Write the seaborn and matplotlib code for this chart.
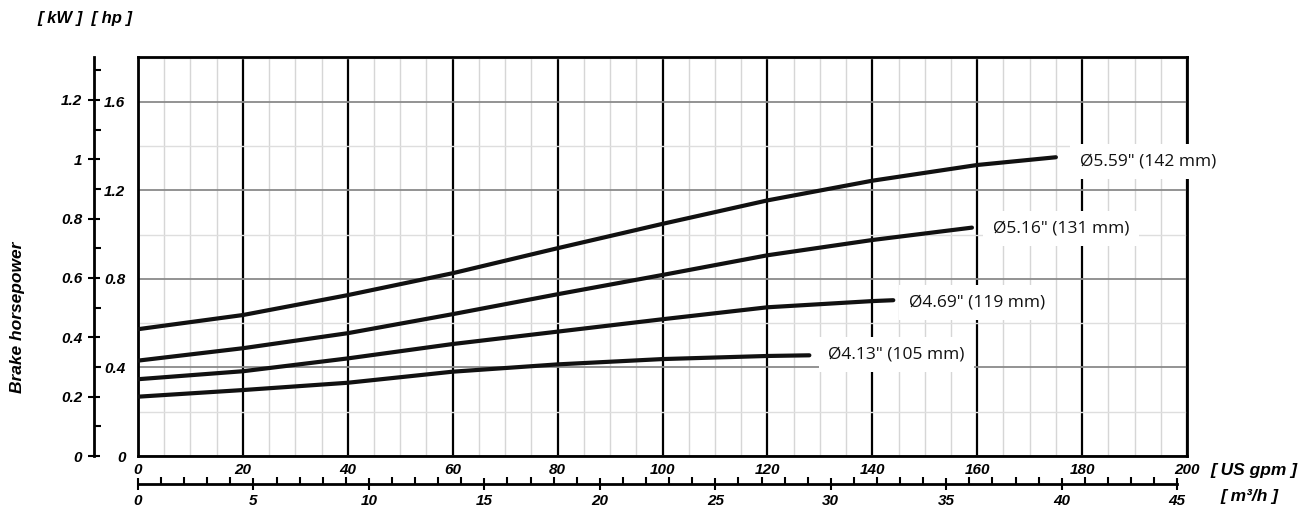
import numpy as np
import pandas as pd
import matplotlib
matplotlib.use("Agg")
import matplotlib.pyplot as plt
import seaborn as sns
from matplotlib.ticker import MultipleLocator, FuncFormatter

# ---- data ----
gpm_559 = [0, 20, 40, 60, 80, 100, 120, 140, 160, 175]
hp_559 = [0.573, 0.637, 0.727, 0.826, 0.939, 1.049, 1.155, 1.244, 1.315, 1.350]
gpm_516 = [0, 20, 40, 60, 80, 100, 120, 140, 159]
hp_516 = [0.431, 0.487, 0.555, 0.641, 0.731, 0.818, 0.907, 0.976, 1.032]
gpm_469 = [0, 20, 40, 60, 80, 100, 120, 140, 144]
hp_469 = [0.347, 0.383, 0.441, 0.506, 0.562, 0.618, 0.672, 0.700, 0.704]
gpm_413 = [0, 20, 40, 60, 80, 100, 120, 128]
hp_413 = [0.268, 0.298, 0.331, 0.381, 0.414, 0.438, 0.452, 0.455]

curve_names = ['Ø5.59" (142 mm)', 'Ø5.16" (131 mm)', 'Ø4.69" (119 mm)', 'Ø4.13" (105 mm)']
label_x = [179.6, 163.0, 147.0, 131.6]
label_y = [1.329, 1.026, 0.692, 0.457]

HP_TO_KW = 0.7457
GPM_PER_M3H = 4.4029

frames = []
for name, g, h in zip(curve_names, [gpm_559, gpm_516, gpm_469, gpm_413],
                      [hp_559, hp_516, hp_469, hp_413]):
    frames.append(pd.DataFrame({"gpm": g, "hp": h, "curve": name}))
df = pd.concat(frames, ignore_index=True)

sns.set_style("white")
plt.rcParams["font.family"] = ["Liberation Sans", "DejaVu Sans"]
plt.rcParams["font.weight"] = "bold"
plt.rcParams["font.style"] = "italic"
plt.rcParams["text.color"] = "black"
plt.rcParams["xtick.color"] = "black"
plt.rcParams["ytick.color"] = "black"
plt.rcParams["xtick.labelsize"] = 11
plt.rcParams["ytick.labelsize"] = 11
plt.rcParams["axes.labelcolor"] = "black"

W, H = 1310, 512
fig = plt.figure(figsize=(W / 100, H / 100), dpi=100)
L, R, T, B = 138, 1187, 57, 456
ax = fig.add_axes([L / W, 1 - B / H, (R - L) / W, (B - T) / H])

sns.lineplot(data=df, x="gpm", y="hp", hue="curve", palette={n: "#111111" for n in curve_names},
             estimator=None, sort=False, legend=False, linewidth=3.0, ax=ax,
             solid_capstyle="round", zorder=4)

ax.set_xlim(0, 200)
ax.set_ylim(0, 1.803)
ax.set_xlabel("")
ax.set_ylabel("")

ax.xaxis.set_major_locator(MultipleLocator(20))
ax.xaxis.set_minor_locator(MultipleLocator(5))
ax.yaxis.set_major_locator(MultipleLocator(0.4))
ax.yaxis.set_minor_locator(MultipleLocator(0.2))

ax.grid(which="major", axis="x", color="black", lw=1.6)
ax.grid(which="minor", axis="x", color="#d6d6d6", lw=1)
ax.grid(which="major", axis="y", color="#8a8a8a", lw=1.3)
ax.grid(which="minor", axis="y", color="#dedede", lw=1)
ax.set_axisbelow(True)

fmt = FuncFormatter(lambda v, p: f"{v:g}")

ax.xaxis.set_major_formatter(fmt)
ax.yaxis.set_major_formatter(fmt)
ax.tick_params(axis="x", which="both", length=0, pad=5, labelsize=11, labelcolor="black")
ax.tick_params(axis="y", which="major", direction="out", length=5, width=1.5, color="black",
               pad=4, labelsize=11, labelcolor="black")
ax.tick_params(axis="y", which="minor", length=0)

for s in ax.spines.values():
    s.set_visible(True)
    s.set_color("black")
    s.set_linewidth(2)

# kW secondary axis on the left
sec_y = ax.secondary_yaxis(-(L - 94) / (R - L),
                           functions=(lambda h: h * HP_TO_KW, lambda k: k / HP_TO_KW))
sec_y.yaxis.set_major_locator(MultipleLocator(0.2))
sec_y.yaxis.set_minor_locator(MultipleLocator(0.1))
sec_y.yaxis.set_major_formatter(fmt)
sec_y.tick_params(which="major", direction="inout", length=9, width=1.5, pad=4,
                  colors="black", labelsize=11)
sec_y.tick_params(which="minor", direction="in", length=5, width=1.5, colors="black")
sec_y.spines["left"].set_linewidth(2)
sec_y.spines["left"].set_color("black")

# m3/h secondary axis at the bottom
sec_x = ax.secondary_xaxis(-(484 - B) / (B - T),
                           functions=(lambda g: g / GPM_PER_M3H, lambda m: m * GPM_PER_M3H))
sec_x.xaxis.set_major_locator(MultipleLocator(5))
sec_x.xaxis.set_minor_locator(MultipleLocator(1))
sec_x.xaxis.set_major_formatter(fmt)
sec_x.tick_params(which="major", direction="inout", length=9, width=1.5, pad=3,
                  colors="black", labelsize=11)
sec_x.tick_params(which="minor", direction="in", length=5, width=1.5, colors="black")
sec_x.spines["bottom"].set_linewidth(2)
sec_x.spines["bottom"].set_color("black")
sec_x.spines["bottom"].set_bounds(0, 45)

# curve labels
for name, lx, ly in zip(curve_names, label_x, label_y):
    ax.text(lx, ly, name, fontsize=12.5, family=["Open Sans", "DejaVu Sans"],
            fontweight="normal", fontstyle="normal",
            ha="left", va="center", color="#111111", zorder=6, clip_on=False,
            bbox=dict(boxstyle="square,pad=0.55", fc="white", ec="none"))

bi = dict(fontweight="bold", fontstyle="italic", color="black")
fig.text(37 / W, 1 - 19 / H, "[ kW ]  [ hp ]", fontsize=12, ha="left", va="center", **bi)
fig.text(18 / W, 1 - 317 / H, "Brake horsepower", fontsize=12.5, rotation=90,
         ha="center", va="center", **bi)
fig.text(1210 / W, 1 - 470 / H, "[ US gpm ]", fontsize=12.5, ha="left", va="center", **bi)
fig.text(1220 / W, 1 - 497 / H, "[ m³/h ]", fontsize=12.5, ha="left", va="center", **bi)

fig.savefig("out.png", dpi=100)
